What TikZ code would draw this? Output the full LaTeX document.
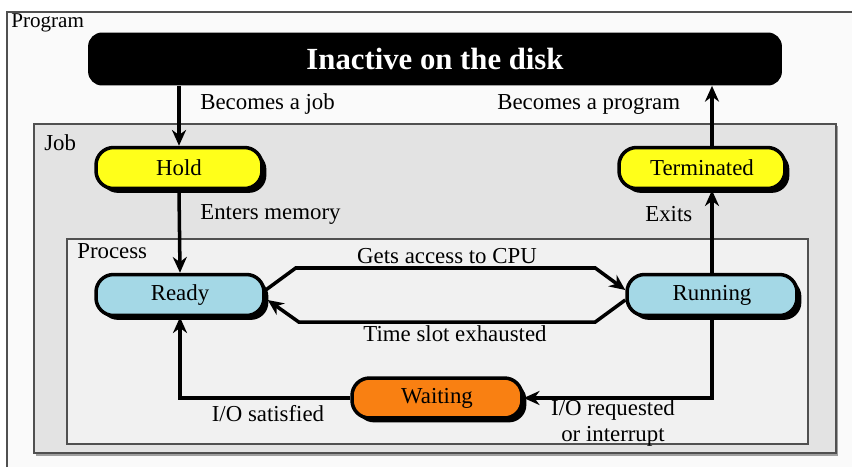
\documentclass[tikz,border=0pt]{standalone}
\usepackage{fontspec}
\setmainfont{Liberation Serif}
\usetikzlibrary{arrows.meta,shadows,calc}
\definecolor{progfill}{HTML}{FAFAFA}
\definecolor{jobfill}{HTML}{E3E3E3}
\definecolor{procfill}{HTML}{F1F1F1}
\definecolor{boxline}{HTML}{505050}
\definecolor{holdyellow}{HTML}{FFFF1A}
\definecolor{readyblue}{HTML}{A4D8E6}
\definecolor{waitorange}{HTML}{F98012}
\tikzset{
  lbl/.style={font=\fontsize{13}{15}\selectfont, inner sep=0pt},
  statebox/.style={draw=black, line width=2pt, rounded corners=10pt,
    minimum width=3.32cm, minimum height=0.82cm, inner sep=0pt,
    font=\fontsize{13}{15}\selectfont,
    drop shadow={shadow xshift=2.5pt, shadow yshift=-2.5pt, fill=black, opacity=1}},
  arr/.style={line width=2pt, -{Stealth[length=9pt,width=8pt]}},
  area/.style={draw=boxline, line width=1.2pt}
}
\begin{document}
\begin{tikzpicture}[x=0.02cm,y=-0.02cm]
\useasboundingbox (0,0) rectangle (852,467);
\fill[white] (0,0) rectangle (852,467);
% program area
\fill[progfill] (7,12) rectangle (852,467);
\draw[boxline, line width=1.2pt] (7,467) -- (7,12) -- (852,12);
\node[lbl, font=\fontsize{12}{14}\selectfont, anchor=west] (proglbl) at (11,23) {Program};
% job area
\fill[gray!75] (36,126) rectangle (838,456);
\draw[area, fill=jobfill] (34,124) rectangle (836,453);
\node[lbl, anchor=west] (joblbl) at (44,143) {Job};
% process area
\draw[area, fill=procfill] (67,239) rectangle (808,444);
\node[lbl, anchor=west] (proclbl) at (77,251) {Process};
% inactive
\node[fill=black, rounded corners=8pt, minimum width=13.88cm, minimum height=1.06cm,
  text=white, font=\bfseries\fontsize{17.5}{19}\selectfont] (inactive) at (435,59) {Inactive on the disk};
% states
\node[statebox, fill=holdyellow] (hold) at (179,168) {Hold};
\node[statebox, fill=holdyellow] (term) at (702,168) {Terminated};
\node[statebox, fill=readyblue, minimum width=3.36cm] (ready) at (180,295) {Ready};
\node[statebox, fill=readyblue, minimum width=3.4cm] (running) at (712,295) {Running};
\node[statebox, fill=waitorange, minimum width=3.4cm, minimum height=0.8cm] (waiting) at (437,398) {Waiting};
% connectors
\draw[arr] (inactive.south -| hold.north) -- (hold.north);
\draw[arr] (running.north |- term.north) -- (running.north |- inactive.south);
\draw[arr] (hold.south) -- (ready.north);
\draw[arr] (running.north) -- (running.north |- term.south);
\draw[arr] ($(ready.east)+(0,-5)$) -- ++(30,-22) -- ($(running.west)+(-30,-27)$) -- ($(running.west)+(0,-5)$);
\draw[arr] ($(running.west)+(0,5)$) -- ++(-30,22) -- ($(ready.east)+(33,27)$) -- ($(ready.east)+(2,5)$);
\draw[arr] (running.south) |- (waiting.east);
\draw[arr] (waiting.west) -| (ready.south);
% labels
\node[lbl, anchor=west] (l1) at (200,104) {Becomes a job};
\node[lbl, anchor=west] (l2) at (497,104) {Becomes a program};
\node[lbl, anchor=west] (l3) at (200,214) {Enters memory};
\node[lbl, anchor=west] (l4) at (645,214) {Exits};
\node[lbl] (l5) at (447,256) {Gets access to CPU};
\node[lbl] (l6) at (455,334) {Time slot exhausted};
\node[lbl] (l7) at (268,414) {I/O satisfied};
\node[lbl, align=center] (l8) at (613,423) {I/O requested\\or interrupt};
\end{tikzpicture}
\end{document}
